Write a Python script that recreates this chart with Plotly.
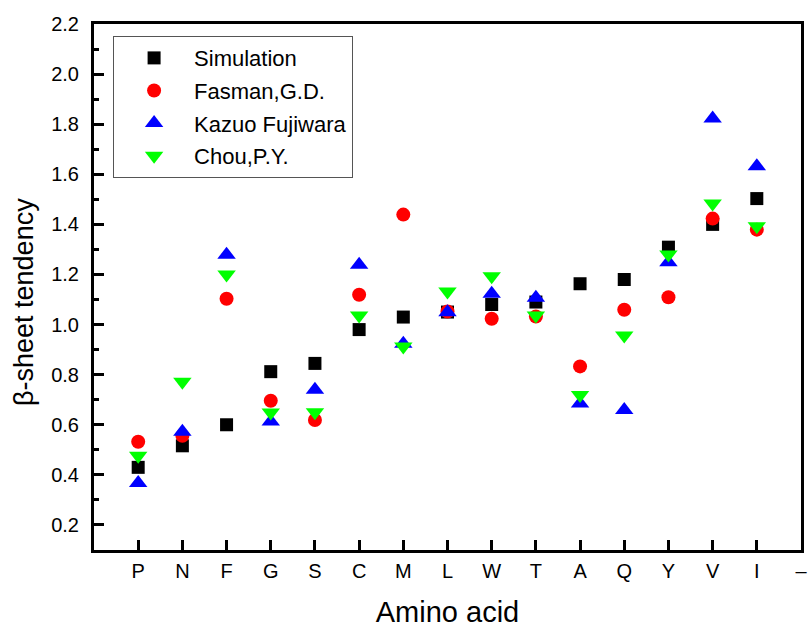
import plotly.graph_objects as go

categories = ["P", "N", "F", "G", "S", "C", "M", "L", "W", "T", "A", "Q", "Y", "V", "I"]
extra_tick_label = "–"

simulation = [0.43, 0.516, 0.60, 0.812, 0.845, 0.98, 1.03, 1.05, 1.08, 1.09, 1.163, 1.18, 1.309, 1.40, 1.503]
fasman = [0.532, 0.556, 1.103, 0.696, 0.619, 1.119, 1.439, 1.052, 1.023, 1.032, 0.833, 1.059, 1.109, 1.423, 1.379]
fujiwara = [0.367, 0.572, 1.279, 0.613, 0.74, 1.239, 0.923, 1.049, 1.123, 1.107, 0.685, 0.659, 1.249, 1.823, 1.632]
chou = [0.476, 0.772, 1.20, 0.649, 0.65, 1.036, 0.912, 1.132, 1.193, 1.036, 0.719, 0.956, 1.28, 1.483, 1.393]

y_tickvals = [0.2, 0.4, 0.6, 0.8, 1.0, 1.2, 1.4, 1.6, 1.8, 2.0, 2.2]
y_ticktext = ["0.2", "0.4", "0.6", "0.8", "1.0", "1.2", "1.4", "1.6", "1.8", "2.0", "2.2"]
y_minorvals = [0.3, 0.5, 0.7, 0.9, 1.1, 1.3, 1.5, 1.7, 1.9, 2.1]

x_title = "Amino acid"
y_title = "β-sheet tendency"

series = [
    ("Simulation", simulation, "square", "#000000", 13),
    ("Fasman,G.D.", fasman, "circle", "#FF0000", 14),
    ("Kazuo Fujiwara", fujiwara, "triangle-up", "#0000FF", 16),
    ("Chou,P.Y.", chou, "triangle-down", "#00FF00", 16),
]

xpos = list(range(1, len(categories) + 1))
tickvals = xpos + [len(categories) + 1]
ticktext = categories + [extra_tick_label]

FONT = "Liberation Sans, Arial, sans-serif"

fig = go.Figure()
for i, (name, vals, sym, col, sz) in enumerate(series):
    fig.add_trace(go.Scatter(
        x=xpos, y=vals, mode="markers", name=name, legendgroup=f"g{i}",
        marker=dict(symbol=sym, color=col, size=sz, line=dict(width=0)),
    ))

fig.update_layout(
    width=809, height=628,
    margin=dict(l=94, r=8, t=24, b=78, autoexpand=False),
    paper_bgcolor="white", plot_bgcolor="white",
    font=dict(family=FONT, size=20, color="black"),
    showlegend=True,
    legend=dict(
        x=0.027, y=0.977, xanchor="left", yanchor="top",
        bgcolor="white", bordercolor="#555555", borderwidth=1,
        font=dict(family=FONT, size=22, color="black"),
        tracegroupgap=1, itemwidth=70,
    ),
    xaxis=dict(
        range=[0, 16], tickmode="array", tickvals=tickvals, ticktext=ticktext,
        showline=True, linewidth=3, linecolor="black", mirror=True,
        ticks="inside", ticklen=10, tickwidth=2.5, tickcolor="black",
        showgrid=False, zeroline=False, automargin=False,
        tickfont=dict(size=20), ticklabelstandoff=1, ticklabeloverflow="allow",
        title=dict(text=x_title, font=dict(size=29), standoff=26),
    ),
    yaxis=dict(
        range=[0.1, 2.2], tickmode="array",
        tickvals=y_tickvals, ticktext=y_ticktext,
        showline=True, linewidth=3, linecolor="black", mirror=True,
        ticks="inside", ticklen=10, tickwidth=2.5, tickcolor="black",
        minor=dict(ticks="inside", ticklen=5, tickwidth=2.5, tickcolor="black",
                   tickmode="array", tickvals=y_minorvals),
        showgrid=False, zeroline=False, automargin=False,
        tickfont=dict(size=20), ticklabelstandoff=8,
    ),
    annotations=[dict(
        text=y_title, textangle=-90, xref="paper", yref="paper",
        x=-0.099, y=0.4715, xanchor="center", yanchor="middle",
        showarrow=False, font=dict(family=FONT, size=27, color="black"),
    )],
)

fig.write_html("out.html", config={"displayModeBar": False},
               post_script="document.body.style.margin='0';")
